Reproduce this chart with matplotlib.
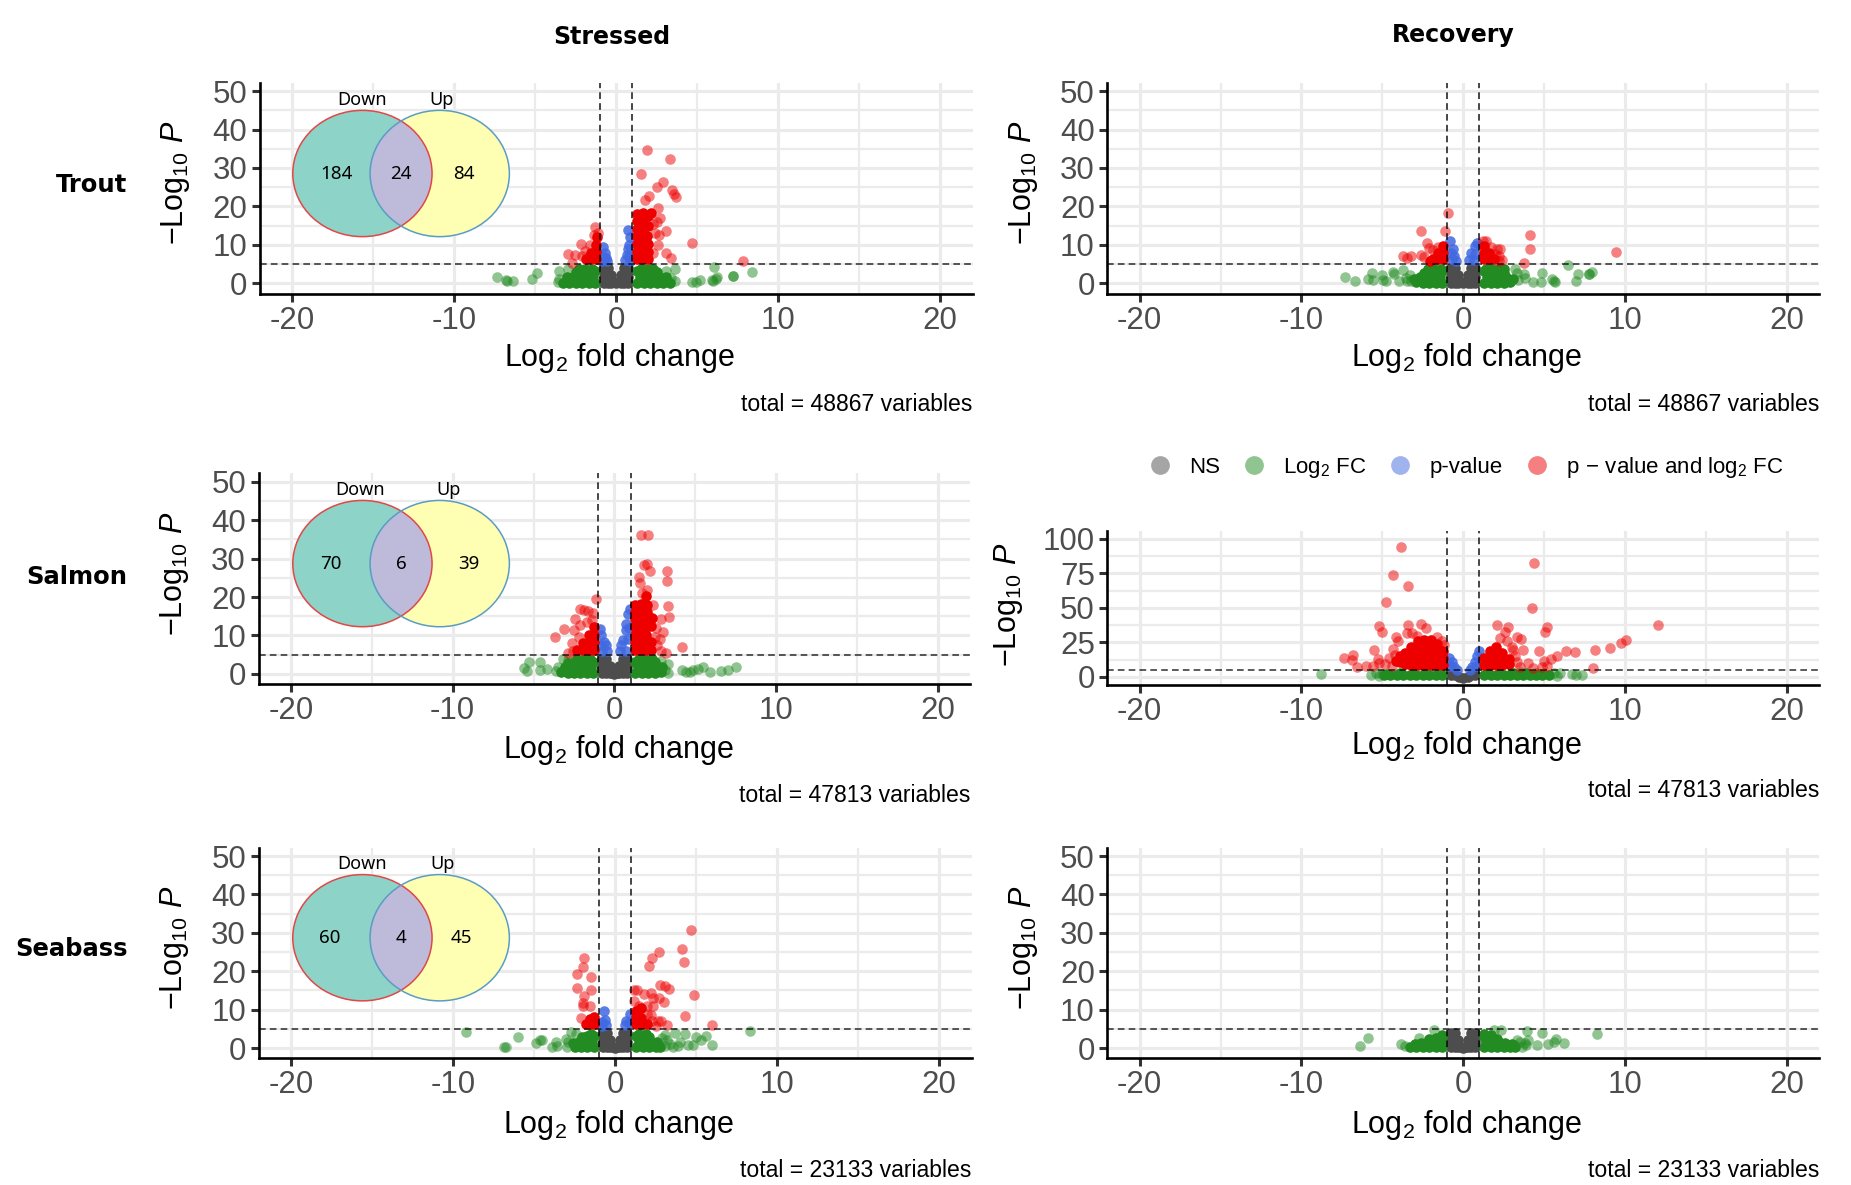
import matplotlib
matplotlib.use("Agg")
import matplotlib.pyplot as plt
from matplotlib.patches import Ellipse
from matplotlib.lines import Line2D
from matplotlib.ticker import FixedLocator

plt.rcParams['font.family'] = ['Liberation Sans', 'DejaVu Sans']
plt.rcParams['mathtext.fontset'] = 'custom'
plt.rcParams['mathtext.rm'] = 'Liberation Sans'
plt.rcParams['mathtext.it'] = 'Liberation Sans:italic'
plt.rcParams['mathtext.default'] = 'regular'

columns = ["Stressed", "Recovery"]
rows = ["Trout", "Salmon", "Seabass"]
totals = [48867, 47813, 23133]
legend_labels = ["NS", r"Log$_2$ FC", "p-value", r"p$\,-\,$value and log$_2$ FC"]
venn_titles = ["Down", "Up"]
venn_trout = [184, 24, 84]
venn_salmon = [70, 6, 39]
venn_seabass = [60, 4, 45]
x_ticks = [-20, -10, 0, 10, 20]
y_ticks_50 = [0, 10, 20, 30, 40, 50]
y_ticks_100 = [0, 25, 50, 75, 100]
fc_cut = 1
p_cut = 5

# ---------- non significant cloud (shared V) ----------
ns_pts = [(-.75,.2),(-.75,1.7),(-.75,2.8),(-.75,3.9),(-.6,2.7),(-.5,.2),(-.5,1.8),(-.5,3.9),(-.3,.2),(-.3,2.1),(-.14,.3),
          (0,.1),(.14,.3),(.3,.2),(.3,2.1),(.5,.2),(.5,1.8),(.5,3.9),(.6,2.7),(.75,.2),(.75,1.7),(.75,2.8),(.75,3.9)]
ns_mr = [(-.75,1.6),(-.5,1.4),(-.28,.2),(0,-.5),(.28,.2),(.5,1.4),(.75,1.6)]

# ---------- Trout, stressed ----------
tl_green_core = [(-1.3,.2),(-1.7,.2),(-2.1,.2),(-2.5,.2),(-2.9,.2),(-3.3,.2),(-1.45,1.7),(-1.85,1.7),(-2.25,1.7),(-2.65,1.7),(-3.05,1.6),
 (-1.3,3.1),(-1.7,3.1),(-2.1,3.1),(-2.5,2.9),(-1.5,3.8),(-1.9,3.8),(-2.3,3.7),
 (1.3,.2),(1.7,.2),(2.1,.2),(2.5,.2),(2.9,.2),(3.3,.2),(1.45,1.7),(1.85,1.7),(2.25,1.7),(2.65,1.7),(3.05,1.6),
 (1.3,3.1),(1.7,3.1),(2.1,3.1),(2.5,2.9),(1.5,3.8),(1.9,3.8),(2.3,3.7)]
tl_green_soft = [(-7.35,1.65),(-6.8,.8),(-6.75,.6),(-6.4,.5),(-5.2,1.1),(-4.9,2.7),(-3.55,3.3),(-3,3.8),(-3.5,1.2),(-3.6,.3),
 (3.6,3.6),(3.05,3.3),(6.05,4.2),(8.4,3),(7.2,2),(7.2,1.8),(6.25,1.65),(6.15,1.2),(5.9,.8),(6,.5),(5.2,.95),(4.7,.3),(4.9,.4),(3.65,.5),(3.4,1.5)]
tl_blue = [(-.8,9.5),(-.72,8),(-.75,6.8),(-.62,6.6),(-.55,5.9),(-.85,5.8),(.75,14),(.82,12),(.8,10),(.72,8.8),(.65,7.4),(.8,7),(.52,6),(.82,5.9)]
tl_red_core = [(-1.27,6.2),(-1.27,8.2),(-1.27,10),(-1.2,12),(-1.55,6.2),(-1.55,8),(-1.85,6.2),
 (1.27,6.2),(1.27,8.2),(1.27,10.2),(1.27,12.2),(1.27,14.2),(1.27,16.2),(1.3,18),(1.6,6.2),(1.6,8.2),(1.6,10.2),(1.6,12.2),(1.6,14.2),(1.6,16.2),(1.65,18.4),
 (1.95,6.2),(1.95,8.2),(1.95,10.2),(1.9,12.2),(1.95,15),(1.95,17.5),(2.15,18.3)]
tl_red_soft = [(1.9,34.7),(3.35,32.3),(1.5,28.5),(2.9,26.3),(2.5,25),(3.45,24.3),(3.55,23.3),(3.7,22.4),(2.05,22.8),(1.75,21.8),(2.55,19.5),(2.7,17),
 (3.1,13.7),(2.65,12.7),(4.7,10.4),(2.55,10),(3.05,7.9),(3.4,6.6),(7.85,5.7),(2.3,15.5),(2.4,13),(2.3,8),(2.5,16),
 (-1.3,14.6),(-1.35,12.5),(-1.1,13.1),(-2.15,10.3),(-1.6,10),(-3,7.6),(-2.55,7.3),(-2.7,5.2),(-2.1,7),(-1.9,8.5)]

# ---------- Trout, recovery ----------
tr_green_core = [(-1.3,.2),(-1.7,.2),(-2.1,.2),(-2.5,.2),(-2.9,.3),(-1.45,1.7),(-1.85,1.7),(-2.25,1.7),(-2.65,1.6),(-3.05,1),
 (-1.3,3.1),(-1.7,3.1),(-2.1,3),(-2.45,2.8),(-1.4,3.8),(-1.8,3.8),(-2.2,3.7),
 (1.3,.2),(1.7,.2),(2.1,.2),(2.5,.2),(2.9,.3),(1.45,1.7),(1.85,1.7),(2.25,1.7),(2.65,1.6),(3.05,1),
 (1.3,3.1),(1.7,3.1),(2.1,3),(2.5,2.8),(1.4,3.8),(1.8,3.8),(2.2,3.8),(2.5,3.7)]
tr_green_soft = [(-7.3,1.7),(-6.7,.6),(-5.9,1.2),(-5.65,2.6),(-5.6,.9),(-5,2.2),(-4.95,.9),(-4.8,.6),(-4.35,3),(-4.25,2.5),(-3.7,3.4),(-3.95,.6),(-3.55,1.5),(-3.45,.6),(-3.3,2.2),(-3.2,.5),
 (3.3,2.6),(3.75,2.3),(3.85,1.5),(4.3,.4),(4.9,2.6),(4.8,.4),(5.5,1),(5.65,.4),(5.6,.5),(6.45,4.8),(7.1,2.3),(7,.7),(7.75,2.3),(7.95,2.9),(7.8,2.5),(3.4,.8),(3.2,3.6)]
tr_blue = [(-.8,11.1),(-.65,9),(-.75,8),(-.55,7),(-.7,6.2),(-.45,5.9),(.72,9.6),(.85,10.5),(.47,7.8),(.7,7.7),(.37,6.1),(.65,6)]
tr_red_core = [(-1.27,6.2),(-1.27,8),(-1.27,9.6),(-1.55,6.2),(-1.55,7.8),(-1.85,6.2),(-2.05,5.9),
 (1.27,6.2),(1.27,8),(1.27,9.6),(1.6,6.2),(1.6,7.8),(1.9,6.2)]
tr_red_soft = [(-.97,18.2),(-2.6,13.7),(-1.15,13.7),(4.1,12.5),(4.1,9),(9.45,8.2),(3.75,5.2),(-3.7,7),(-3.5,6.5),(-3.2,7.1),(-2.6,7.3),(-2.4,6.9),(-2.25,10.6),(-2.1,9.3),(-1.85,8.6),(-1.55,9.5),
 (1.2,11),(1.4,10.9),(1.7,9.5),(2.1,9),(2.3,8.8),(2.2,7.1),(2.4,6),(1.95,7.5),(2.2,5.7)]

# ---------- Salmon, stressed ----------
ml_green_core = [(-1.3,.2),(-1.7,.2),(-2.1,.2),(-2.5,.2),(-2.9,.3),(-3.3,.5),(-1.45,1.7),(-1.85,1.7),(-2.25,1.7),(-2.65,1.7),(-3.05,1.7),
 (-1.3,3.1),(-1.7,3.1),(-2.1,3.1),(-2.5,3),(-2.85,2.9),(-1.5,3.8),(-1.9,3.8),(-2.3,3.8),
 (1.3,.2),(1.7,.2),(2.1,.2),(2.5,.2),(2.9,.4),(1.45,1.7),(1.85,1.7),(2.25,1.7),(2.65,1.7),(2.95,1.7),
 (1.3,3.1),(1.7,3.1),(2.1,3.1),(2.5,3),(1.5,3.8),(1.9,3.8),(2.3,3.8)]
ml_green_soft = [(-5.3,3),(-5.6,1.6),(-5.4,.7),(-4.6,3),(-4.6,.9),(-4.15,1.3),(-3.6,.7),(-3.2,3.9),(-3.5,1.8),(-2.9,3.6),
 (3.3,2.6),(3.3,.3),(3.1,1),(4.15,1),(4.4,.5),(4.65,.6),(4.85,1),(5.15,1.3),(5.5,1.9),(5.9,.4),(6.6,.7),(7.05,1.1),(7.5,1.7),(2.9,3.4)]
ml_blue = [(-.9,11.7),(-.8,10),(-.65,8.3),(-.8,7.4),(-.5,7.4),(-.45,6),(-.75,5.9),(.95,17),(.85,15.7),(.7,13),(.9,12),(.7,11.3),(.55,8.7),(.85,9),(.43,7.4),(.33,6),(.7,6)]
ml_red_core = [(-1.27,6.2),(-1.27,8.2),(-1.27,10.2),(-1.25,12.2),(-1.6,6.2),(-1.6,8.2),(-1.6,10),(-1.95,6.2),(-1.95,8),(-2.3,6.2),
 (1.27,6.2),(1.27,8.2),(1.27,10.2),(1.27,12.2),(1.27,14.2),(1.27,16.2),(1.3,18),(1.6,6.2),(1.6,8.2),(1.6,10.2),(1.6,12.2),(1.6,14.2),(1.6,16.2),(1.65,18.3),(1.95,20.3),
 (1.95,6.2),(1.95,8.2),(1.95,10.2),(1.95,12.2),(1.95,14.2),(2,16),(2,18),(2.25,6.2),(2.25,8.4),(2.25,12.5),(2.3,14.5)]
ml_red_soft = [(1.65,36.2),(2.1,36.2),(1.85,28.4),(2,28.5),(2.2,26.9),(3.25,26.7),(3.25,24.2),(1.5,25.2),(1.6,23.6),(2,21.9),(3.3,17.7),(3.35,14.8),(2.9,14.3),(3,10.9),(4.2,7),(2.8,9),(2.4,18),(2.5,9.5),(2.65,7.5),(2.9,6),(3.2,5.5),(2.55,12),(1.7,21),
 (-1.15,19.6),(-2.1,17),(-1.9,16.7),(-1.65,16.5),(-1.3,15.8),(-2.45,14.3),(-3.1,11.7),(-3.7,9.7),(-2.5,11.3),(-2.15,12.6),(-1.7,13.5),(-1.4,14),(-2.9,5.4),(-2.6,8),(-2.2,9.5),(-2.55,6)]

# ---------- Salmon, recovery ----------
mr_green_core = [(-1.3,1.5),(-1.7,1.5),(-2.1,1.5),(-2.5,1.5),(-2.9,1.5),(-3.3,1.5),(-3.7,1.5),(-4.1,1.5),(-4.5,1.5),(-4.9,1.5),
 (-1.5,2.6),(-2.3,2.6),(-3.1,2.6),(-3.9,2.6),(-4.7,2.4),
 (1.3,1.5),(1.7,1.5),(2.1,1.5),(2.5,1.5),(2.9,1.5),(3.3,1.5),(3.7,1.5),(4.1,1.5),(4.5,1.5),(4.9,1.5),(5.3,1.5),
 (1.5,2.6),(2.3,2.6),(3.1,2.6),(3.9,2.6),(4.7,2.4)]
mr_green_soft = [(-8.8,2.4),(-5.7,1.5),(-5.4,2.8),(-5.2,.8),(-5,2.4),(6.7,2),(7.35,1.2),(7,1.7),(6,3.1),(5.8,.8),(5.6,2.6),(3.5,3.5),(4.5,3)]
mr_blue = [(-.9,14),(-.7,11),(-.8,8),(-.55,7),(-.4,5),(.95,19),(.85,15),(.7,11),(.85,8),(.55,7),(.4,5)]
mr_red_core = [(-1.27,9),(-1.27,14),(-1.27,19),(-1.65,9),(-1.65,14),(-1.65,19),(-1.65,24),(-2,8.5),(-2,13),(-2,18),(-2,23),(-2,27),
 (-2.4,8.5),(-2.4,13),(-2.4,18),(-2.4,23),(-2.4,27),(-2.8,8.5),(-2.8,13),(-2.8,18),(-2.8,23),(-2.8,26),(-3.2,9),(-3.2,13.5),(-3.2,18),(-3.2,22),
 (-3.6,9.5),(-3.6,14),(-3.6,17),(-3.9,11),(-3.9,15.5),(-4.15,11.5),
 (1.27,9),(1.27,14),(1.65,9),(1.65,14),(1.65,19),(2,8.5),(2,13),(2,18),(2,22),(2.4,9),(2.4,13),(2.4,17),(2.8,9.5),(2.8,13)]
mr_red_soft = [(-3.83,94.4),(4.4,82.6),(-4.37,73.6),(-3.39,65.9),(-4.78,54),(4.27,50.1),(12.07,37.8),(-5.19,37),(-5,32.2),(5.15,35.8),(5.08,32.4),(2.07,37.3),(2.78,36.3),(-3.39,37.5),(-2.58,38.3),(-2.3,35.4),(2.6,32.2),(3.3,28.6),(3.56,27.4),
 (10.07,26.9),(9.76,24.7),(9.08,20.6),(8.17,19.4),(6.88,17.7),(6.37,18.6),(5.8,15.3),(5.4,12.8),(5,11.6),(4.7,18.9),(4,10.4),(3.35,10.9),(3.7,19.4),(3.1,19.4),(8.03,6.3),(2.7,26),(2.3,28),(3,22),(3.2,15),(4.9,7),(5.2,8),(4.3,6.5),(3.5,7),
 (-7.39,14),(-6.81,15.7),(-6.88,12.1),(-6.54,7.3),(-6.03,8),(-5.53,19.4),(-5.29,12.8),(-4.85,9.7),(-4.34,20),(-4,26),(-4.17,28.6),(-3.49,32),(-3.15,32),(-1.29,26),(-1.97,26),(-2.85,30),(-1.6,29),
 (-5.2,10),(-5.6,8),(-4.6,14),(-4.4,8),(-4.2,16),(-1.2,23)]

# ---------- Seabass, stressed ----------
bl_green_core = [(-1.3,.2),(-1.7,.2),(-2.1,.2),(-2.5,.2),(-1.45,1.7),(-1.85,1.7),(-2.25,1.6),(-2.6,1.4),(-1.3,3.1),(-1.7,3.1),(-2.05,3),(-1.5,3.8),
 (1.3,.2),(1.7,.2),(2.1,.2),(2.5,.2),(2.8,.3),(1.45,1.7),(1.85,1.7),(2.25,1.6),(2.6,1.5),(1.3,3.1),(1.7,3.1),(2.1,3),(1.5,3.8),(1.9,3.7)]
bl_green_soft = [(-9.2,4.1),(8.3,4.5),(-6.87,.3),(-6.75,.3),(-6,2.8),(-4.85,1.3),(-4.65,2.2),(-4.5,2),(-3.87,.3),(-3.65,1.6),(-3.57,.6),(-2.7,4.1),(-3,2.5),(-2.9,1.5),(-2.95,.4),(-2.4,3.6),
 (3.7,3.9),(4.33,3.7),(5.6,3.2),(5,2.8),(5.3,2),(5.97,.8),(4.8,.8),(4.5,.9),(4,1.7),(3.6,.4),(3.9,.6),(3.2,2.2),(3.1,3.4),(3.4,1.2),(2.9,2.6),(3.1,.6)]
bl_blue = [(-.7,9.6),(-.63,7.4),(-.8,6.8),(-.53,5.9),(-.8,5.8),(.9,9),(.7,7),(.85,6.5),(.6,6)]
bl_red_core = [(-1.27,6.2),(-1.27,8),(-1.55,6.2),(-1.55,7.6),(-1.8,6.2),
 (1.27,6.2),(1.27,8),(1.27,9.6),(1.6,6.2),(1.6,7.8),(1.6,10.5),(1.95,6.2)]
bl_red_soft = [(4.7,30.7),(4.13,25.7),(2.7,25.1),(2.28,23.4),(4.28,22.4),(2.1,21.3),(-1.9,23.4),(-2,21),(-2.33,19.2),(-1.5,18.4),(-2.33,15.7),(-1.5,15.2),(-1.9,13.5),(4.9,13.9),(2.8,16.3),(3.07,16.1),(3.33,15.4),(1.36,15),
 (1.77,14.2),(2.2,14.3),(2.35,13),(2.7,13),(3,12),(1.2,12.2),(-2,11.7),(-1.97,10.9),(-1.55,10.9),(4.3,8.4),(5.97,6),(3.2,6.1),(-2.1,7.8),(1.5,10.9),(2,10.9),(2.35,10.9),(1.4,9.1),(2.25,8.7),(2.65,7),(2.85,7),(1.2,15.2),(2,9),(2.3,7),(2.5,5.7)]

# ---------- Seabass, recovery ----------
br_green_core = [(-1.3,.2),(-1.7,.2),(-2.1,.2),(-2.5,.2),(-2.9,.3),(-3.3,.4),(-1.4,1.5),(-1.8,1.5),(-2.2,1.5),(-2.6,1.4),(-3,1.2),(-1.3,2.8),(-1.7,2.7),(-2.1,2.5),(-1.3,3.5),
 (1.3,.2),(1.7,.2),(2.1,.2),(2.5,.2),(2.9,.3),(3.2,.4),(1.4,1.5),(1.8,1.5),(2.2,1.5),(2.6,1.4),(3,1.2),(1.3,2.8),(1.7,2.7),(2.1,2.5),(1.3,3.7),(1.7,3.4)]
br_green_soft = [(-6.4,.6),(-5.9,2.6),(-3.85,1),(-1.8,4.6),(-2.75,2.6),(-3.6,.5),
 (1.9,4.8),(2.35,4.8),(3.97,4.5),(4.9,3.9),(8.27,3.6),(4.55,.7),(5.25,1),(5.6,1.5),(5.75,2.4),(6.25,1.3),(4,2.2),(3.8,1.3),(3.66,.2),(3.3,2.2),(3.2,.9),(3.5,1.6),(3.9,.7)]

COL_NS, COL_FC, COL_P, COL_BOTH = "#4D4D4D", "#228B22", "#4169E1", "#EE0000"
FIG_W, FIG_H = 1851, 1185
K = 1851 / 1568

fig = plt.figure(figsize=(FIG_W/100, FIG_H/100), dpi=100, facecolor="white")

def box(l, t, r, b):
    return [l*K/FIG_W, 1-b*K/FIG_H, (r-l)*K/FIG_W, (b-t)*K/FIG_H]

def pts(ax, data, col, alpha, z):
    if data:
        ax.scatter([p[0] for p in data], [p[1] for p in data], s=58, c=col, alpha=alpha, linewidths=0, zorder=z)

def panel(rect, ylim, yticks, yminor, total, ns, gc, gs, bl, rc, rs, xlab_y, ylab_x, ylab_y, cap_y):
    l, t, r, b = rect
    ax = fig.add_axes(box(l, t, r, b))
    ax.set_xlim(-22, 22); ax.set_ylim(*ylim)
    ax.set_xticks(x_ticks); ax.set_xticklabels([str(v) for v in x_ticks])
    ax.set_yticks(yticks)
    ax.xaxis.set_minor_locator(FixedLocator([-15, -5, 5, 15]))
    ax.yaxis.set_minor_locator(FixedLocator(yminor))
    ax.grid(True, which="major", color="#EBEBEB", lw=2.3, zorder=0)
    ax.grid(True, which="minor", color="#EBEBEB", lw=1.6, zorder=0)
    ax.set_axisbelow(True)
    for s in ("top", "right"):
        ax.spines[s].set_visible(False)
    for s in ("left", "bottom"):
        ax.spines[s].set_linewidth(1.9); ax.spines[s].set_color("black")
    ax.tick_params(which="major", length=6, width=2.2, color="#333333", labelcolor="#4D4D4D", labelsize=22.5, pad=3)
    ax.tick_params(which="minor", length=0)
    pts(ax, ns, COL_NS, 1, 2)
    pts(ax, gs, COL_FC, .5, 3)
    pts(ax, gc, COL_FC, 1, 3.2)
    pts(ax, bl, COL_P, .85, 4)
    pts(ax, rs, COL_BOTH, .5, 5)
    pts(ax, rc, COL_BOTH, 1, 5.2)
    for v in (-fc_cut, fc_cut):
        ax.axvline(v, color="black", lw=1.2, ls=(0, (4, 2.5)), alpha=.85, zorder=6)
    ax.axhline(p_cut, color="black", lw=1.2, ls=(0, (4, 2.5)), alpha=.75, zorder=6)
    ax.set_xlabel(r"Log$_2$ fold change", fontsize=22, color="black", va="center")
    ax.xaxis.set_label_coords(0.505, (b-xlab_y)/(b-t))
    ax.set_ylabel(r"$-$Log$_{10}$ $\mathit{P}$", fontsize=22, color="black", va="center")
    ax.yaxis.set_label_coords((ylab_x-l)/(r-l), (b-ylab_y)/(b-t))
    ax.text(r, cap_y, f"total = {total} variables", fontsize=16.6, color="black", ha="right", va="center",
            transform=ov.transData, zorder=9, clip_on=False)
    return ax

# overlay in shrunk-reference pixel units: venns, row and column titles
ov = fig.add_axes([0, 0, 1, 1], zorder=10)
ov.set_xlim(0, 1568); ov.set_ylim(1004, 0); ov.axis("off"); ov.patch.set_alpha(0)

pm = [5, 15, 25, 35, 45]
pmm = [12.5, 37.5, 62.5, 87.5]
panel((220, 70, 824, 249), (-2.76, 52.2), y_ticks_50, pm, totals[0], ns_pts, tl_green_core, tl_green_soft, tl_blue, tl_red_core, tl_red_soft, 303, 149, 155, 343)
panel((938, 70, 1541, 249), (-2.76, 52.2), y_ticks_50, pm, totals[0], ns_pts, tr_green_core, tr_green_soft, tr_blue, tr_red_core, tr_red_soft, 303, 867, 155, 343)
panel((219, 401, 822, 579), (-2.5, 52.2), y_ticks_50, pm, totals[1], ns_pts, ml_green_core, ml_green_soft, ml_blue, ml_red_core, ml_red_soft, 635, 148, 486, 674)
panel((938, 450, 1541, 580), (-5.6, 105.5), y_ticks_100, pmm, totals[1], ns_mr, mr_green_core, mr_green_soft, mr_blue, mr_red_core, mr_red_soft, 632, 854, 512, 670)
panel((219, 718, 823, 896), (-2.5, 52.2), y_ticks_50, pm, totals[2], ns_pts, bl_green_core, bl_green_soft, bl_blue, bl_red_core, bl_red_soft, 953, 148, 803, 992)
panel((938, 718, 1541, 896), (-2.5, 52.2), y_ticks_50, pm, totals[2], ns_pts, br_green_core, br_green_soft, [], [], [], 953, 867, 803, 992)

FN = ['Noto Sans', 'DejaVu Sans']
FB = ['DejaVu Sans']
ov.text(518, 31, columns[0], fontsize=17, fontweight="bold", family=FB, ha="center", va="center")
ov.text(1231, 30, columns[1], fontsize=17, fontweight="bold", family=FB, ha="center", va="center")
for name, y in zip(rows, (157, 489, 804)):
    ov.text(108, y, name, fontsize=17.5, fontweight="bold", family=FB, ha="right", va="center")

def venn(cy, vals, down_x, up_x, title_y, num_x):
    w, h = 118, 107
    lx, rx = 307, 372.5
    a = Ellipse((lx, cy), w, h, fc="#8DD3C7", ec="none", zorder=1)
    b = Ellipse((rx, cy), w, h, fc="#FFFFB3", ec="none", zorder=2)
    ov.add_patch(a); ov.add_patch(b)
    c = Ellipse((lx, cy), w, h, fc="#BEBADA", ec="none", zorder=3)
    ov.add_patch(c)
    c.set_clip_path(Ellipse((rx, cy), w, h, transform=ov.transData))
    ov.add_patch(Ellipse((lx, cy), w, h, fc="none", ec="#E04848", lw=1.1, zorder=4))
    ov.add_patch(Ellipse((rx, cy), w, h, fc="none", ec="#5B9CC4", lw=1.1, zorder=5))
    ov.text(down_x, title_y, venn_titles[0], fontsize=13, family=FN, ha="center", va="center", zorder=6)
    ov.text(up_x, title_y, venn_titles[1], fontsize=13, family=FN, ha="center", va="center", zorder=6)
    for v, x in zip(vals, num_x):
        ov.text(x, cy, str(v), fontsize=13.5, family=FN, ha="center", va="center", zorder=6)

venn(147, venn_trout, 307, 374, 85, (285, 340, 393))
venn(477.5, venn_salmon, 305, 380, 415, (280, 340, 397))
venn(794.5, venn_seabass, 307, 375, 732, (279, 340, 391))

handles = [Line2D([], [], ls="", marker="o", ms=13.5, mfc=c, mec="none", alpha=.5) for c in (COL_NS, COL_FC, COL_P, COL_BOTH)]
fig.legend(handles, legend_labels, loc="center", bbox_to_anchor=(1240*K/FIG_W, 1-396*K/FIG_H), ncol=4, frameon=False,
           fontsize=16, handletextpad=.62, columnspacing=.82, handlelength=1.4, borderpad=0)

fig.savefig("out.png", dpi=100, facecolor="white")
